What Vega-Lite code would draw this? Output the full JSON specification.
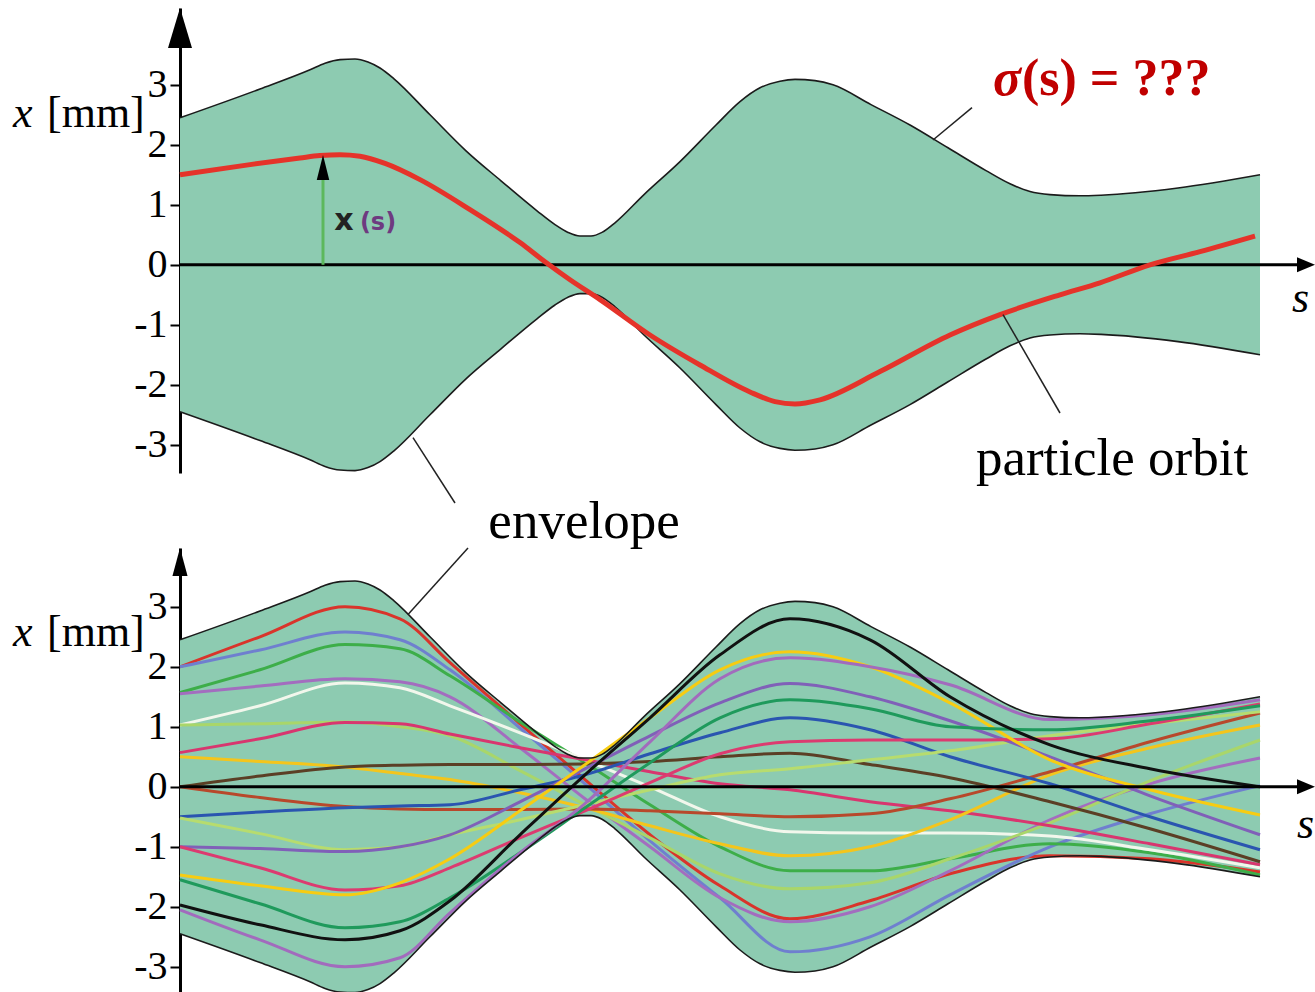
{
  "$schema": "https://vega.github.io/schema/vega-lite/v6.json",
  "background": "white",
  "padding": {"left": 13, "top": 8, "right": 0, "bottom": 0},
  "bounds": "flush",
  "spacing": 75,
  "resolve": {"scale": {"y": "independent"}},
  "config": {
    "view": {"stroke": null},
    "axisY": {"grid": false, "domainColor": "black", "domainWidth": 3, "domainCap": "butt", "tickColor": "black", "tickWidth": 2, "tickSize": 10, "labelFont": "Liberation Serif", "labelFontSize": 40, "labelColor": "black", "labelPadding": 3, "zindex": 1, "labelOverlap": false}
  },
  "datasets": {
    "env": [
      {"s": 0, "up": 2.45, "lo": -2.45}, {"s": 0.8, "up": 2.93, "lo": -2.93}, {"s": 1.3, "up": 3.25, "lo": -3.25},
      {"s": 1.45, "up": 3.36, "lo": -3.36}, {"s": 1.6, "up": 3.42, "lo": -3.42}, {"s": 1.75, "up": 3.43, "lo": -3.43},
      {"s": 1.88, "up": 3.38, "lo": -3.38}, {"s": 2.0, "up": 3.28, "lo": -3.28}, {"s": 2.14, "up": 3.1, "lo": -3.1},
      {"s": 2.5, "up": 2.5, "lo": -2.5}, {"s": 2.86, "up": 1.9, "lo": -1.9}, {"s": 3.21, "up": 1.4, "lo": -1.4},
      {"s": 3.57, "up": 0.9, "lo": -0.9}, {"s": 3.75, "up": 0.67, "lo": -0.67}, {"s": 3.88, "up": 0.54, "lo": -0.54},
      {"s": 4.0, "up": 0.48, "lo": -0.48}, {"s": 4.11, "up": 0.48, "lo": -0.48}, {"s": 4.22, "up": 0.54, "lo": -0.54},
      {"s": 4.35, "up": 0.7, "lo": -0.7}, {"s": 4.64, "up": 1.17, "lo": -1.17}, {"s": 5.0, "up": 1.72, "lo": -1.72},
      {"s": 5.36, "up": 2.33, "lo": -2.33}, {"s": 5.6, "up": 2.72, "lo": -2.72}, {"s": 5.8, "up": 2.95, "lo": -2.95},
      {"s": 6.0, "up": 3.06, "lo": -3.06}, {"s": 6.15, "up": 3.09, "lo": -3.09}, {"s": 6.35, "up": 3.07, "lo": -3.07},
      {"s": 6.53, "up": 3.0, "lo": -3.0}, {"s": 6.91, "up": 2.67, "lo": -2.67}, {"s": 7.3, "up": 2.33, "lo": -2.33},
      {"s": 7.68, "up": 1.95, "lo": -1.95}, {"s": 8.06, "up": 1.57, "lo": -1.57}, {"s": 8.3, "up": 1.35, "lo": -1.35},
      {"s": 8.5, "up": 1.22, "lo": -1.22}, {"s": 8.7, "up": 1.17, "lo": -1.17}, {"s": 9.0, "up": 1.15, "lo": -1.15},
      {"s": 9.21, "up": 1.16, "lo": -1.16}, {"s": 9.98, "up": 1.28, "lo": -1.28}, {"s": 10.8, "up": 1.5, "lo": -1.5}
    ],
    "orbit": [
      {"s": 0, "x": 1.5}, {"s": 0.7, "x": 1.67}, {"s": 1.2, "x": 1.78}, {"s": 1.4, "x": 1.82}, {"s": 1.6, "x": 1.835},
      {"s": 1.8, "x": 1.81}, {"s": 2.05, "x": 1.69}, {"s": 2.4, "x": 1.42}, {"s": 2.9, "x": 0.92}, {"s": 3.4, "x": 0.37},
      {"s": 3.65, "x": 0.05}, {"s": 3.9, "x": -0.25}, {"s": 4.2, "x": -0.58}, {"s": 4.7, "x": -1.17}, {"s": 5.2, "x": -1.67},
      {"s": 5.7, "x": -2.12}, {"s": 5.95, "x": -2.28}, {"s": 6.15, "x": -2.32}, {"s": 6.4, "x": -2.25}, {"s": 7.0, "x": -1.78},
      {"s": 7.7, "x": -1.17}, {"s": 8.2, "x": -0.83}, {"s": 8.8, "x": -0.5}, {"s": 9.2, "x": -0.3}, {"s": 9.7, "x": 0.0},
      {"s": 10.2, "x": 0.22}, {"s": 10.75, "x": 0.48}
    ],
    "traj": [
      {"id":"red","s":0,"x":2.0},{"id":"red","s":0.8,"x":2.5},{"id":"red","s":1.65,"x":3.0},{"id":"red","s":2.2,"x":2.8},{"id":"red","s":2.7,"x":2.07},{"id":"red","s":3.4,"x":1.05},{"id":"red","s":4.05,"x":0.12},{"id":"red","s":4.7,"x":-0.8},{"id":"red","s":5.4,"x":-1.65},{"id":"red","s":6.1,"x":-2.2},{"id":"red","s":6.9,"x":-1.9},{"id":"red","s":7.7,"x":-1.45},{"id":"red","s":8.7,"x":-1.15},{"id":"red","s":9.7,"x":-1.2},{"id":"red","s":10.8,"x":-1.42},
      {"id":"peri","s":0,"x":2.0},{"id":"peri","s":0.8,"x":2.28},{"id":"peri","s":1.65,"x":2.58},{"id":"peri","s":2.2,"x":2.45},{"id":"peri","s":2.7,"x":1.95},{"id":"peri","s":3.4,"x":0.98},{"id":"peri","s":4.05,"x":0.05},{"id":"peri","s":4.7,"x":-0.9},{"id":"peri","s":5.4,"x":-1.85},{"id":"peri","s":6.1,"x":-2.75},{"id":"peri","s":6.9,"x":-2.5},{"id":"peri","s":7.7,"x":-1.8},{"id":"peri","s":8.7,"x":-1.0},{"id":"peri","s":9.7,"x":-0.45},{"id":"peri","s":10.8,"x":0.02},
      {"id":"green","s":0,"x":1.57},{"id":"green","s":0.8,"x":1.95},{"id":"green","s":1.65,"x":2.37},{"id":"green","s":2.2,"x":2.3},{"id":"green","s":2.7,"x":1.85},{"id":"green","s":3.4,"x":1.08},{"id":"green","s":4.05,"x":0.4},{"id":"green","s":4.7,"x":-0.3},{"id":"green","s":5.4,"x":-1.0},{"id":"green","s":6.1,"x":-1.4},{"id":"green","s":6.9,"x":-1.4},{"id":"green","s":7.7,"x":-1.2},{"id":"green","s":8.7,"x":-0.95},{"id":"green","s":9.7,"x":-1.1},{"id":"green","s":10.8,"x":-1.47},
      {"id":"violet","s":0,"x":1.55},{"id":"violet","s":0.8,"x":1.68},{"id":"violet","s":1.65,"x":1.8},{"id":"violet","s":2.2,"x":1.75},{"id":"violet","s":2.7,"x":1.5},{"id":"violet","s":3.4,"x":0.65},{"id":"violet","s":4.05,"x":-0.2},{"id":"violet","s":4.7,"x":-1.0},{"id":"violet","s":5.4,"x":-1.85},{"id":"violet","s":6.1,"x":-2.25},{"id":"violet","s":6.9,"x":-2.0},{"id":"violet","s":7.7,"x":-1.4},{"id":"violet","s":8.7,"x":-0.55},{"id":"violet","s":9.7,"x":0.05},{"id":"violet","s":10.8,"x":0.48},
      {"id":"white","s":0,"x":1.03},{"id":"white","s":0.8,"x":1.35},{"id":"white","s":1.65,"x":1.73},{"id":"white","s":2.2,"x":1.65},{"id":"white","s":2.7,"x":1.35},{"id":"white","s":3.4,"x":0.9},{"id":"white","s":4.05,"x":0.45},{"id":"white","s":4.7,"x":0.0},{"id":"white","s":5.4,"x":-0.5},{"id":"white","s":6.1,"x":-0.75},{"id":"white","s":6.9,"x":-0.77},{"id":"white","s":7.7,"x":-0.77},{"id":"white","s":8.7,"x":-0.82},{"id":"white","s":9.7,"x":-1.05},{"id":"white","s":10.8,"x":-1.35},
      {"id":"lgreen","s":0,"x":1.03},{"id":"lgreen","s":0.8,"x":1.05},{"id":"lgreen","s":1.65,"x":1.08},{"id":"lgreen","s":2.2,"x":1.0},{"id":"lgreen","s":2.7,"x":0.85},{"id":"lgreen","s":3.4,"x":0.27},{"id":"lgreen","s":4.05,"x":-0.3},{"id":"lgreen","s":4.7,"x":-0.85},{"id":"lgreen","s":5.4,"x":-1.45},{"id":"lgreen","s":6.1,"x":-1.7},{"id":"lgreen","s":6.9,"x":-1.6},{"id":"lgreen","s":7.7,"x":-1.2},{"id":"lgreen","s":8.7,"x":-0.6},{"id":"lgreen","s":9.7,"x":0.1},{"id":"lgreen","s":10.8,"x":0.78},
      {"id":"crimson","s":0,"x":0.57},{"id":"crimson","s":0.8,"x":0.8},{"id":"crimson","s":1.65,"x":1.07},{"id":"crimson","s":2.2,"x":1.05},{"id":"crimson","s":2.7,"x":0.88},{"id":"crimson","s":3.4,"x":0.65},{"id":"crimson","s":4.05,"x":0.45},{"id":"crimson","s":4.7,"x":0.25},{"id":"crimson","s":5.4,"x":0.05},{"id":"crimson","s":6.1,"x":-0.05},{"id":"crimson","s":6.9,"x":-0.25},{"id":"crimson","s":7.7,"x":-0.4},{"id":"crimson","s":8.7,"x":-0.65},{"id":"crimson","s":9.7,"x":-0.95},{"id":"crimson","s":10.8,"x":-1.3},
      {"id":"yellow","s":0,"x":0.5},{"id":"yellow","s":0.8,"x":0.42},{"id":"yellow","s":1.65,"x":0.33},{"id":"yellow","s":2.2,"x":0.22},{"id":"yellow","s":2.7,"x":0.12},{"id":"yellow","s":3.4,"x":-0.1},{"id":"yellow","s":4.05,"x":-0.35},{"id":"yellow","s":4.7,"x":-0.65},{"id":"yellow","s":5.4,"x":-0.95},{"id":"yellow","s":6.1,"x":-1.15},{"id":"yellow","s":6.9,"x":-1.0},{"id":"yellow","s":7.7,"x":-0.55},{"id":"yellow","s":8.7,"x":0.2},{"id":"yellow","s":9.7,"x":0.65},{"id":"yellow","s":10.8,"x":1.03},
      {"id":"brown","s":0,"x":0.0},{"id":"brown","s":0.8,"x":0.18},{"id":"brown","s":1.65,"x":0.33},{"id":"brown","s":2.2,"x":0.36},{"id":"brown","s":2.7,"x":0.37},{"id":"brown","s":3.4,"x":0.37},{"id":"brown","s":4.05,"x":0.38},{"id":"brown","s":4.7,"x":0.42},{"id":"brown","s":5.4,"x":0.5},{"id":"brown","s":6.1,"x":0.56},{"id":"brown","s":6.9,"x":0.37},{"id":"brown","s":7.7,"x":0.15},{"id":"brown","s":8.7,"x":-0.25},{"id":"brown","s":9.7,"x":-0.7},{"id":"brown","s":10.8,"x":-1.25},
      {"id":"rust","s":0,"x":0.0},{"id":"rust","s":0.8,"x":-0.18},{"id":"rust","s":1.65,"x":-0.33},{"id":"rust","s":2.2,"x":-0.37},{"id":"rust","s":2.7,"x":-0.38},{"id":"rust","s":3.4,"x":-0.38},{"id":"rust","s":4.05,"x":-0.37},{"id":"rust","s":4.7,"x":-0.4},{"id":"rust","s":5.4,"x":-0.45},{"id":"rust","s":6.1,"x":-0.5},{"id":"rust","s":6.9,"x":-0.45},{"id":"rust","s":7.7,"x":-0.2},{"id":"rust","s":8.7,"x":0.25},{"id":"rust","s":9.7,"x":0.75},{"id":"rust","s":10.8,"x":1.23},
      {"id":"dblue","s":0,"x":-0.5},{"id":"dblue","s":0.8,"x":-0.42},{"id":"dblue","s":1.65,"x":-0.35},{"id":"dblue","s":2.2,"x":-0.32},{"id":"dblue","s":2.7,"x":-0.3},{"id":"dblue","s":3.4,"x":-0.05},{"id":"dblue","s":4.05,"x":0.2},{"id":"dblue","s":4.7,"x":0.55},{"id":"dblue","s":5.4,"x":0.9},{"id":"dblue","s":6.1,"x":1.15},{"id":"dblue","s":6.9,"x":0.95},{"id":"dblue","s":7.7,"x":0.5},{"id":"dblue","s":8.7,"x":0.05},{"id":"dblue","s":9.7,"x":-0.5},{"id":"dblue","s":10.8,"x":-1.05},
      {"id":"ygreen","s":0,"x":-0.52},{"id":"ygreen","s":0.8,"x":-0.78},{"id":"ygreen","s":1.65,"x":-1.05},{"id":"ygreen","s":2.2,"x":-1.0},{"id":"ygreen","s":2.7,"x":-0.8},{"id":"ygreen","s":3.4,"x":-0.55},{"id":"ygreen","s":4.05,"x":-0.3},{"id":"ygreen","s":4.7,"x":-0.05},{"id":"ygreen","s":5.4,"x":0.2},{"id":"ygreen","s":6.1,"x":0.3},{"id":"ygreen","s":6.9,"x":0.45},{"id":"ygreen","s":7.7,"x":0.6},{"id":"ygreen","s":8.7,"x":0.85},{"id":"ygreen","s":9.7,"x":1.05},{"id":"ygreen","s":10.8,"x":1.25},
      {"id":"purple","s":0,"x":-1.0},{"id":"purple","s":0.8,"x":-1.03},{"id":"purple","s":1.65,"x":-1.08},{"id":"purple","s":2.2,"x":-1.0},{"id":"purple","s":2.7,"x":-0.8},{"id":"purple","s":3.4,"x":-0.25},{"id":"purple","s":4.05,"x":0.3},{"id":"purple","s":4.7,"x":0.85},{"id":"purple","s":5.4,"x":1.4},{"id":"purple","s":6.1,"x":1.72},{"id":"purple","s":6.9,"x":1.5},{"id":"purple","s":7.7,"x":1.1},{"id":"purple","s":8.7,"x":0.5},{"id":"purple","s":9.7,"x":-0.15},{"id":"purple","s":10.8,"x":-0.8},
      {"id":"crimson2","s":0,"x":-1.0},{"id":"crimson2","s":0.8,"x":-1.35},{"id":"crimson2","s":1.65,"x":-1.72},{"id":"crimson2","s":2.2,"x":-1.65},{"id":"crimson2","s":2.7,"x":-1.35},{"id":"crimson2","s":3.4,"x":-0.85},{"id":"crimson2","s":4.05,"x":-0.4},{"id":"crimson2","s":4.7,"x":0.07},{"id":"crimson2","s":5.4,"x":0.55},{"id":"crimson2","s":6.1,"x":0.75},{"id":"crimson2","s":6.9,"x":0.78},{"id":"crimson2","s":7.7,"x":0.78},{"id":"crimson2","s":8.7,"x":0.8},{"id":"crimson2","s":9.7,"x":1.05},{"id":"crimson2","s":10.8,"x":1.38},
      {"id":"yellow2","s":0,"x":-1.47},{"id":"yellow2","s":0.8,"x":-1.65},{"id":"yellow2","s":1.65,"x":-1.8},{"id":"yellow2","s":2.2,"x":-1.6},{"id":"yellow2","s":2.7,"x":-1.2},{"id":"yellow2","s":3.4,"x":-0.4},{"id":"yellow2","s":4.05,"x":0.37},{"id":"yellow2","s":4.7,"x":1.15},{"id":"yellow2","s":5.4,"x":1.95},{"id":"yellow2","s":6.1,"x":2.25},{"id":"yellow2","s":6.9,"x":2.0},{"id":"yellow2","s":7.7,"x":1.4},{"id":"yellow2","s":8.7,"x":0.45},{"id":"yellow2","s":9.7,"x":-0.05},{"id":"yellow2","s":10.8,"x":-0.47},
      {"id":"dgreen","s":0,"x":-1.55},{"id":"dgreen","s":0.8,"x":-1.95},{"id":"dgreen","s":1.65,"x":-2.35},{"id":"dgreen","s":2.2,"x":-2.25},{"id":"dgreen","s":2.7,"x":-1.85},{"id":"dgreen","s":3.4,"x":-1.1},{"id":"dgreen","s":4.05,"x":-0.35},{"id":"dgreen","s":4.7,"x":0.4},{"id":"dgreen","s":5.4,"x":1.15},{"id":"dgreen","s":6.1,"x":1.45},{"id":"dgreen","s":6.9,"x":1.3},{"id":"dgreen","s":7.7,"x":1.0},{"id":"dgreen","s":8.7,"x":0.95},{"id":"dgreen","s":9.7,"x":1.1},{"id":"dgreen","s":10.8,"x":1.35},
      {"id":"violet3","s":0,"x":-2.05},{"id":"violet3","s":0.8,"x":-2.55},{"id":"violet3","s":1.65,"x":-3.0},{"id":"violet3","s":2.2,"x":-2.85},{"id":"violet3","s":2.7,"x":-2.1},{"id":"violet3","s":3.4,"x":-1.1},{"id":"violet3","s":4.05,"x":-0.28},{"id":"violet3","s":4.7,"x":0.75},{"id":"violet3","s":5.4,"x":1.8},{"id":"violet3","s":6.1,"x":2.15},{"id":"violet3","s":6.9,"x":2.0},{"id":"violet3","s":7.7,"x":1.7},{"id":"violet3","s":8.7,"x":1.12},{"id":"violet3","s":9.7,"x":1.2},{"id":"violet3","s":10.8,"x":1.45},
      {"id":"black","s":0,"x":-1.97},{"id":"black","s":0.8,"x":-2.3},{"id":"black","s":1.65,"x":-2.55},{"id":"black","s":2.2,"x":-2.4},{"id":"black","s":2.7,"x":-1.9},{"id":"black","s":3.4,"x":-0.8},{"id":"black","s":4.05,"x":0.2},{"id":"black","s":4.7,"x":1.15},{"id":"black","s":5.4,"x":2.2},{"id":"black","s":6.1,"x":2.8},{"id":"black","s":6.9,"x":2.45},{"id":"black","s":7.7,"x":1.5},{"id":"black","s":8.7,"x":0.7},{"id":"black","s":9.7,"x":0.3},{"id":"black","s":10.8,"x":0.0}
    ]
  },
  "vconcat": [
    {
      "width": 1135,
      "height": 465,
      "layer": [
        {"data": {"name": "env"}, "mark": {"type": "area", "color": "#8dcbb1", "opacity": 1, "interpolate": "monotone"},
         "encoding": {"x": {"field": "s", "type": "quantitative", "scale": {"domain": [0, 11.35]}, "axis": null},
                      "y": {"field": "up", "type": "quantitative", "scale": {"domain": [-3.47, 4.28]}, "axis": {"values": [-3, -2, -1, 0, 1, 2, 3], "title": null, "labelExpr": "'' + datum.value"}},
                      "y2": {"field": "lo"}}},
        {"data": {"name": "env"}, "mark": {"type": "line", "color": "#1b1b1b", "strokeWidth": 1.6, "interpolate": "monotone"},
         "encoding": {"x": {"field": "s", "type": "quantitative", "scale": {"domain": [0, 11.35]}, "axis": null},
                      "y": {"field": "up", "type": "quantitative", "scale": {"domain": [-3.47, 4.28]}, "axis": {"values": [-3, -2, -1, 0, 1, 2, 3], "title": null, "labelExpr": "'' + datum.value"}}}},
        {"data": {"name": "env"}, "mark": {"type": "line", "color": "#1b1b1b", "strokeWidth": 1.6, "interpolate": "monotone"},
         "encoding": {"x": {"field": "s", "type": "quantitative", "scale": {"domain": [0, 11.35]}, "axis": null},
                      "y": {"field": "lo", "type": "quantitative", "scale": {"domain": [-3.47, 4.28]}, "axis": {"values": [-3, -2, -1, 0, 1, 2, 3], "title": null, "labelExpr": "'' + datum.value"}}}},
        {"data": {"values": [{"s": 0, "s2": 11.2, "x": 0}]}, "mark": {"type": "rule", "color": "black", "strokeWidth": 3},
         "encoding": {"x": {"field": "s", "type": "quantitative", "scale": {"domain": [0, 11.35]}, "axis": null}, "x2": {"field": "s2"},
                      "y": {"field": "x", "type": "quantitative", "scale": {"domain": [-3.47, 4.28]}, "axis": {"values": [-3, -2, -1, 0, 1, 2, 3], "title": null, "labelExpr": "'' + datum.value"}}}},
        {"data": {"name": "orbit"}, "mark": {"type": "line", "color": "#e5332a", "strokeWidth": 5, "interpolate": "monotone"},
         "encoding": {"x": {"field": "s", "type": "quantitative", "scale": {"domain": [0, 11.35]}, "axis": null},
                      "y": {"field": "x", "type": "quantitative", "scale": {"domain": [-3.47, 4.28]}, "axis": {"values": [-3, -2, -1, 0, 1, 2, 3], "title": null, "labelExpr": "'' + datum.value"}}}},
        {"data": {"values": [{"s": 1.43, "x": 0, "x2": 1.62}]}, "mark": {"type": "rule", "color": "#5cb85c", "strokeWidth": 3},
         "encoding": {"x": {"field": "s", "type": "quantitative", "scale": {"domain": [0, 11.35]}, "axis": null},
                      "y": {"field": "x", "type": "quantitative", "scale": {"domain": [-3.47, 4.28]}, "axis": {"values": [-3, -2, -1, 0, 1, 2, 3], "title": null, "labelExpr": "'' + datum.value"}},
                      "y2": {"field": "x2"}}},
        {"data": {"values": [{"s": 1.43, "x": 1.83}]}, "mark": {"type": "point", "shape": "M0,0L0.25,1L-0.25,1Z", "size": 2500, "filled": true, "color": "black", "opacity": 1, "strokeWidth": 0},
         "encoding": {"x": {"field": "s", "type": "quantitative", "scale": {"domain": [0, 11.35]}, "axis": null},
                      "y": {"field": "x", "type": "quantitative", "scale": {"domain": [-3.47, 4.28]}, "axis": {"values": [-3, -2, -1, 0, 1, 2, 3], "title": null, "labelExpr": "'' + datum.value"}}}},
        {"data": {"values": [{"s": 0, "x": 4.28}]}, "mark": {"type": "point", "shape": "M0,0L0.3,1L-0.3,1Z", "size": 6400, "filled": true, "color": "black", "opacity": 1, "strokeWidth": 0},
         "encoding": {"x": {"field": "s", "type": "quantitative", "scale": {"domain": [0, 11.35]}, "axis": null},
                      "y": {"field": "x", "type": "quantitative", "scale": {"domain": [-3.47, 4.28]}, "axis": {"values": [-3, -2, -1, 0, 1, 2, 3], "title": null, "labelExpr": "'' + datum.value"}}}},
        {"data": {"values": [{"s": 11.35, "x": 0}]}, "mark": {"type": "point", "shape": "M0,0L-1,0.42L-1,-0.42Z", "size": 1296, "filled": true, "color": "black", "opacity": 1, "strokeWidth": 0},
         "encoding": {"x": {"field": "s", "type": "quantitative", "scale": {"domain": [0, 11.35]}, "axis": null},
                      "y": {"field": "x", "type": "quantitative", "scale": {"domain": [-3.47, 4.28]}, "axis": {"values": [-3, -2, -1, 0, 1, 2, 3], "title": null, "labelExpr": "'' + datum.value"}}}},
        {"data": {"values": [{"g": "env", "s": 2.33, "x": -2.88}, {"g": "env", "s": 2.75, "x": -3.97}, {"g": "orb", "s": 8.23, "x": -0.83}, {"g": "orb", "s": 8.8, "x": -2.47}, {"g": "sig", "s": 7.53, "x": 2.08}, {"g": "sig", "s": 7.92, "x": 2.62}]},
         "mark": {"type": "line", "color": "#222222", "strokeWidth": 1.5},
         "encoding": {"x": {"field": "s", "type": "quantitative", "scale": {"domain": [0, 11.35]}, "axis": null},
                      "y": {"field": "x", "type": "quantitative", "scale": {"domain": [-3.47, 4.28]}, "axis": {"values": [-3, -2, -1, 0, 1, 2, 3], "title": null, "labelExpr": "'' + datum.value"}},
                      "detail": {"field": "g"}}},
        {"data": {"values": [{"t": "σ", "s": 8.13, "x": 2.83}]}, "mark": {"type": "text", "font": "Liberation Serif", "fontSize": 52, "fontWeight": "bold", "fontStyle": "italic", "color": "#c00000", "align": "left", "baseline": "alphabetic"},
         "encoding": {"x": {"field": "s", "type": "quantitative", "scale": {"domain": [0, 11.35]}, "axis": null},
                      "y": {"field": "x", "type": "quantitative", "scale": {"domain": [-3.47, 4.28]}, "axis": {"values": [-3, -2, -1, 0, 1, 2, 3], "title": null, "labelExpr": "'' + datum.value"}},
                      "text": {"field": "t"}}},
        {"data": {"values": [{"t": "(s) = ???", "s": 8.42, "x": 2.83}]}, "mark": {"type": "text", "font": "Liberation Serif", "fontSize": 52, "fontWeight": "bold", "color": "#c00000", "align": "left", "baseline": "alphabetic"},
         "encoding": {"x": {"field": "s", "type": "quantitative", "scale": {"domain": [0, 11.35]}, "axis": null},
                      "y": {"field": "x", "type": "quantitative", "scale": {"domain": [-3.47, 4.28]}, "axis": {"values": [-3, -2, -1, 0, 1, 2, 3], "title": null, "labelExpr": "'' + datum.value"}},
                      "text": {"field": "t"}}},
        {"data": {"values": [{"t": "particle orbit", "s": 9.32, "x": -3.5}, {"t": "envelope", "s": 4.04, "x": -4.55}]}, "mark": {"type": "text", "font": "Liberation Serif", "fontSize": 53, "color": "black", "align": "center", "baseline": "alphabetic"},
         "encoding": {"x": {"field": "s", "type": "quantitative", "scale": {"domain": [0, 11.35]}, "axis": null},
                      "y": {"field": "x", "type": "quantitative", "scale": {"domain": [-3.47, 4.28]}, "axis": {"values": [-3, -2, -1, 0, 1, 2, 3], "title": null, "labelExpr": "'' + datum.value"}},
                      "text": {"field": "t"}}},
        {"data": {"values": [{"t": "s", "s": 11.12, "x": -0.78}, {"t": "x", "s": -1.67, "x": 2.3}]}, "mark": {"type": "text", "font": "Liberation Serif", "fontSize": 44, "fontStyle": "italic", "color": "black", "align": "left", "baseline": "alphabetic"},
         "encoding": {"x": {"field": "s", "type": "quantitative", "scale": {"domain": [0, 11.35]}, "axis": null},
                      "y": {"field": "x", "type": "quantitative", "scale": {"domain": [-3.47, 4.28]}, "axis": {"values": [-3, -2, -1, 0, 1, 2, 3], "title": null, "labelExpr": "'' + datum.value"}},
                      "text": {"field": "t"}}},
        {"data": {"values": [{"t": "[mm]", "s": -1.33, "x": 2.3}]}, "mark": {"type": "text", "font": "Liberation Serif", "fontSize": 44, "color": "black", "align": "left", "baseline": "alphabetic"},
         "encoding": {"x": {"field": "s", "type": "quantitative", "scale": {"domain": [0, 11.35]}, "axis": null},
                      "y": {"field": "x", "type": "quantitative", "scale": {"domain": [-3.47, 4.28]}, "axis": {"values": [-3, -2, -1, 0, 1, 2, 3], "title": null, "labelExpr": "'' + datum.value"}},
                      "text": {"field": "t"}}},
        {"data": {"values": [{"t": "x", "s": 1.64, "x": 0.58}]}, "mark": {"type": "text", "font": "DejaVu Sans", "fontSize": 30, "fontWeight": "bold", "color": "#222222", "align": "center", "baseline": "alphabetic"},
         "encoding": {"x": {"field": "s", "type": "quantitative", "scale": {"domain": [0, 11.35]}, "axis": null},
                      "y": {"field": "x", "type": "quantitative", "scale": {"domain": [-3.47, 4.28]}, "axis": {"values": [-3, -2, -1, 0, 1, 2, 3], "title": null, "labelExpr": "'' + datum.value"}},
                      "text": {"field": "t"}}},
        {"data": {"values": [{"t": "(s)", "s": 1.98, "x": 0.58}]}, "mark": {"type": "text", "font": "DejaVu Sans", "fontSize": 24, "fontWeight": "bold", "color": "#6e3a80", "align": "center", "baseline": "alphabetic"},
         "encoding": {"x": {"field": "s", "type": "quantitative", "scale": {"domain": [0, 11.35]}, "axis": null},
                      "y": {"field": "x", "type": "quantitative", "scale": {"domain": [-3.47, 4.28]}, "axis": {"values": [-3, -2, -1, 0, 1, 2, 3], "title": null, "labelExpr": "'' + datum.value"}},
                      "text": {"field": "t"}}}
      ]
    },
    {
      "width": 1135,
      "height": 444,
      "layer": [
        {"data": {"name": "env"}, "mark": {"type": "area", "color": "#8dcbb1", "opacity": 1, "interpolate": "monotone"},
         "encoding": {"x": {"field": "s", "type": "quantitative", "scale": {"domain": [0, 11.35]}, "axis": null},
                      "y": {"field": "up", "type": "quantitative", "scale": {"domain": [-3.42, 3.98]}, "axis": {"values": [-3, -2, -1, 0, 1, 2, 3], "title": null, "labelExpr": "'' + datum.value"}},
                      "y2": {"field": "lo"}}},
        {"data": {"name": "traj"}, "mark": {"type": "line", "strokeWidth": 3, "interpolate": "monotone"},
         "encoding": {"x": {"field": "s", "type": "quantitative", "scale": {"domain": [0, 11.35]}, "axis": null},
                      "y": {"field": "x", "type": "quantitative", "scale": {"domain": [-3.42, 3.98]}, "axis": {"values": [-3, -2, -1, 0, 1, 2, 3], "title": null, "labelExpr": "'' + datum.value"}},
                      "color": {"field": "id", "type": "nominal", "legend": null,
                                "scale": {"domain": ["red", "peri", "green", "violet", "white", "lgreen", "crimson", "yellow", "brown", "rust", "dblue", "ygreen", "purple", "crimson2", "yellow2", "dgreen", "violet3", "black"],
                                          "range": ["#d9342b", "#6f7fcf", "#3dae49", "#a36dbf", "#f2f7ec", "#a9d66a", "#d8366f", "#f4c51c", "#5b3f25", "#b8482b", "#2a55b0", "#b7dc6e", "#8060b8", "#dc3b70", "#f7cc12", "#1f9a5c", "#a26bbd", "#111111"]}}}},
        {"data": {"name": "env"}, "mark": {"type": "line", "color": "#1b1b1b", "strokeWidth": 1.6, "interpolate": "monotone"},
         "encoding": {"x": {"field": "s", "type": "quantitative", "scale": {"domain": [0, 11.35]}, "axis": null},
                      "y": {"field": "up", "type": "quantitative", "scale": {"domain": [-3.42, 3.98]}, "axis": {"values": [-3, -2, -1, 0, 1, 2, 3], "title": null, "labelExpr": "'' + datum.value"}}}},
        {"data": {"name": "env"}, "mark": {"type": "line", "color": "#1b1b1b", "strokeWidth": 1.6, "interpolate": "monotone"},
         "encoding": {"x": {"field": "s", "type": "quantitative", "scale": {"domain": [0, 11.35]}, "axis": null},
                      "y": {"field": "lo", "type": "quantitative", "scale": {"domain": [-3.42, 3.98]}, "axis": {"values": [-3, -2, -1, 0, 1, 2, 3], "title": null, "labelExpr": "'' + datum.value"}}}},
        {"data": {"values": [{"s": 0, "s2": 11.2, "x": 0}]}, "mark": {"type": "rule", "color": "black", "strokeWidth": 3},
         "encoding": {"x": {"field": "s", "type": "quantitative", "scale": {"domain": [0, 11.35]}, "axis": null}, "x2": {"field": "s2"},
                      "y": {"field": "x", "type": "quantitative", "scale": {"domain": [-3.42, 3.98]}, "axis": {"values": [-3, -2, -1, 0, 1, 2, 3], "title": null, "labelExpr": "'' + datum.value"}}}},
        {"data": {"values": [{"s": 0, "x": 3.98}]}, "mark": {"type": "point", "shape": "M0,0L0.27,1L-0.27,1Z", "size": 3136, "filled": true, "color": "black", "opacity": 1, "strokeWidth": 0},
         "encoding": {"x": {"field": "s", "type": "quantitative", "scale": {"domain": [0, 11.35]}, "axis": null},
                      "y": {"field": "x", "type": "quantitative", "scale": {"domain": [-3.42, 3.98]}, "axis": {"values": [-3, -2, -1, 0, 1, 2, 3], "title": null, "labelExpr": "'' + datum.value"}}}},
        {"data": {"values": [{"s": 11.35, "x": 0}]}, "mark": {"type": "point", "shape": "M0,0L-1,0.42L-1,-0.42Z", "size": 1296, "filled": true, "color": "black", "opacity": 1, "strokeWidth": 0},
         "encoding": {"x": {"field": "s", "type": "quantitative", "scale": {"domain": [0, 11.35]}, "axis": null},
                      "y": {"field": "x", "type": "quantitative", "scale": {"domain": [-3.42, 3.98]}, "axis": {"values": [-3, -2, -1, 0, 1, 2, 3], "title": null, "labelExpr": "'' + datum.value"}}}},
        {"data": {"values": [{"s": 2.88, "x": 3.98}, {"s": 2.28, "x": 2.87}]}, "mark": {"type": "line", "color": "#222222", "strokeWidth": 1.5},
         "encoding": {"x": {"field": "s", "type": "quantitative", "scale": {"domain": [0, 11.35]}, "axis": null},
                      "y": {"field": "x", "type": "quantitative", "scale": {"domain": [-3.42, 3.98]}, "axis": {"values": [-3, -2, -1, 0, 1, 2, 3], "title": null, "labelExpr": "'' + datum.value"}}}},
        {"data": {"values": [{"t": "s", "s": 11.17, "x": -0.85}, {"t": "x", "s": -1.67, "x": 2.35}]}, "mark": {"type": "text", "font": "Liberation Serif", "fontSize": 44, "fontStyle": "italic", "color": "black", "align": "left", "baseline": "alphabetic"},
         "encoding": {"x": {"field": "s", "type": "quantitative", "scale": {"domain": [0, 11.35]}, "axis": null},
                      "y": {"field": "x", "type": "quantitative", "scale": {"domain": [-3.42, 3.98]}, "axis": {"values": [-3, -2, -1, 0, 1, 2, 3], "title": null, "labelExpr": "'' + datum.value"}},
                      "text": {"field": "t"}}},
        {"data": {"values": [{"t": "[mm]", "s": -1.33, "x": 2.35}]}, "mark": {"type": "text", "font": "Liberation Serif", "fontSize": 44, "color": "black", "align": "left", "baseline": "alphabetic"},
         "encoding": {"x": {"field": "s", "type": "quantitative", "scale": {"domain": [0, 11.35]}, "axis": null},
                      "y": {"field": "x", "type": "quantitative", "scale": {"domain": [-3.42, 3.98]}, "axis": {"values": [-3, -2, -1, 0, 1, 2, 3], "title": null, "labelExpr": "'' + datum.value"}},
                      "text": {"field": "t"}}}
      ]
    }
  ]
}
